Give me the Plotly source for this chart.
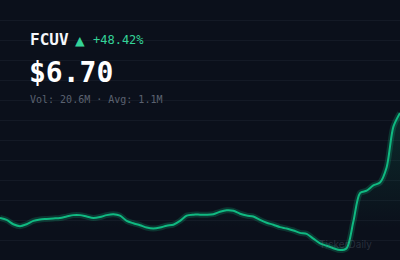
import plotly.graph_objects as go

ticker = "FCUV"
last_price = "$6.70"
change_text = "+48.42%"
volume_text = "Vol: 20.6M · Avg: 1.1M"
watermark = "TickerDaily"

prices = [
    4.51, 4.47, 4.38, 4.34, 4.38, 4.45, 4.48, 4.49, 4.50, 4.51,
    4.54, 4.57, 4.57, 4.54, 4.51, 4.53, 4.57, 4.59, 4.56, 4.45,
    4.40, 4.36, 4.31, 4.29, 4.31, 4.35, 4.37, 4.45, 4.56, 4.58,
    4.58, 4.58, 4.59, 4.64, 4.67, 4.66, 4.60, 4.56, 4.54, 4.47,
    4.41, 4.37, 4.32, 4.29, 4.25, 4.20, 4.18, 4.08, 3.98, 3.93,
    3.88, 3.84, 3.88, 4.43, 5.03, 5.08, 5.19, 5.25, 5.57, 6.41,
    6.70,
]
days = list(range(len(prices)))

BG = "#0b101b"
GREEN = "#10b981"
UP = "#34d399"

y_lo, y_hi = 3.634, 9.057
step = (y_hi - y_lo) / 13.0

fig = go.Figure()
# glow
fig.add_trace(go.Scatter(
    x=days, y=prices, mode="lines",
    line=dict(color="rgba(16,185,129,0.22)", width=6, shape="spline", smoothing=0.8),
    hoverinfo="skip", showlegend=False,
))
fig.add_trace(go.Scatter(
    x=days, y=prices, mode="lines",
    line=dict(color=GREEN, width=2, shape="spline", smoothing=0.8),
    fill="tozeroy",
    fillgradient=dict(
        type="vertical",
        colorscale=[[0, "rgba(16,185,129,0)"], [1, "rgba(16,185,129,0.16)"]],
        start=4.3, stop=6.7,
    ),
    hoverinfo="skip", showlegend=False,
))

fig.update_layout(
    width=400, height=260,
    margin=dict(l=0, r=0, t=0, b=0),
    paper_bgcolor=BG, plot_bgcolor=BG,
    xaxis=dict(range=[0, len(prices) - 1], visible=False, fixedrange=True),
    yaxis=dict(range=[y_lo, y_hi], showticklabels=False, zeroline=False,
               showgrid=True, gridcolor="#141a26", gridwidth=1,
               tick0=y_lo, dtick=step, ticks=""),
    showlegend=False,
)

mono = "DejaVu Sans Mono"
fig.add_annotation(xref="paper", yref="paper", x=28 / 400, y=1 - 39 / 260,
                   xanchor="left", yanchor="middle", showarrow=False,
                   text=f"<b>{ticker}</b>", font=dict(family=mono, size=16, color="#f5f7fa"))
fig.add_annotation(xref="paper", yref="paper", x=79.5 / 400, y=1 - 40 / 260,
                   xanchor="center", yanchor="middle", showarrow=False,
                   text="▲", font=dict(family=mono, size=16, color=UP))
fig.add_annotation(xref="paper", yref="paper", x=91 / 400, y=1 - 40 / 260,
                   xanchor="left", yanchor="middle", showarrow=False,
                   text=change_text, font=dict(family=mono, size=12, color=UP))
fig.add_annotation(xref="paper", yref="paper", x=27 / 400, y=1 - 72 / 260,
                   xanchor="left", yanchor="middle", showarrow=False,
                   text=f"<b>{last_price}</b>", font=dict(family=mono, size=28, color="#ffffff"))
fig.add_annotation(xref="paper", yref="paper", x=28 / 400, y=1 - 99 / 260,
                   xanchor="left", yanchor="middle", showarrow=False,
                   text=volume_text, font=dict(family=mono, size=10, color="#5b6270"))
fig.add_annotation(xref="paper", yref="paper", x=345 / 400, y=1 - 244 / 260,
                   xanchor="center", yanchor="middle", showarrow=False,
                   text=watermark, font=dict(family="Inter", size=10, color="rgba(120,130,150,0.28)"))

fig.write_html("out.html", config={"displayModeBar": False})
